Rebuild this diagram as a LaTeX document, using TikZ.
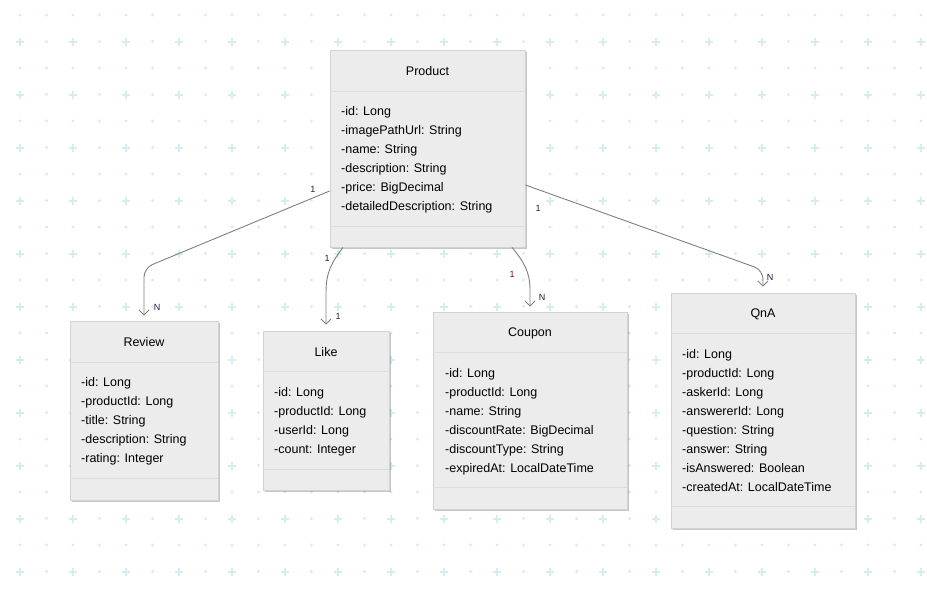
\documentclass[tikz,border=0pt]{standalone}
\usepackage{fontspec}
\setmainfont{Liberation Sans}
\usetikzlibrary{arrows.meta,shadows}
\definecolor{gridc}{HTML}{D6ECF0}
\definecolor{boxfill}{HTML}{ECECEC}
\definecolor{boxline}{HTML}{D2D2D2}
\definecolor{sepline}{HTML}{DCDCDC}
\definecolor{conn}{HTML}{808080}
\definecolor{lblc}{HTML}{202038}
\definecolor{lblred}{HTML}{7A1010}
\tikzset{
  x=1pt, y=-1pt,
  cbox/.style={draw=boxline, fill=boxfill, line width=0.8pt, inner sep=0pt,
    drop shadow={shadow xshift=2pt, shadow yshift=-2pt, fill=black, opacity=0.22}},
  sepl/.style={draw=sepline, line width=0.8pt},
  ctitle/.style={anchor=base, inner sep=0pt, font=\fontsize{12.5pt}{15pt}\selectfont, text=black},
  attr/.style={anchor=base west, inner sep=0pt, font=\fontsize{12.5pt}{15pt}\selectfont, text=black},
  conline/.style={draw=conn, line width=0.9pt, -{Straight Barb[length=5pt,width=10pt]}},
  lbl/.style={inner sep=0pt, font=\fontsize{9pt}{10pt}\selectfont, text=lblc},
  gcross/.style={draw=gridc, line width=2pt},
}
\begin{document}
\begin{tikzpicture}
\useasboundingbox (0,0) rectangle (927,589);
\fill[white] (0,0) rectangle (927,589);
% background grid
\foreach \i in {0,...,34}{
  \foreach \j in {0,...,21}{
    \pgfmathtruncatemacro{\ie}{mod(\i,2)}
    \pgfmathtruncatemacro{\jo}{mod(\j,2)}
    \pgfmathsetmacro{\gx}{20+26.5*\i}
    \pgfmathsetmacro{\gy}{15+26.5*\j}
    \ifnum\ie=0 \ifnum\jo=1
      \draw[gcross] (\gx-4,\gy) -- (\gx+4,\gy) (\gx,\gy-4) -- (\gx,\gy+4);
    \else
      \fill[gridc] (\gx,\gy) circle (1.6);
    \fi\else
      \fill[gridc] (\gx,\gy) circle (1.6);
    \fi
  }
}

% Product
\node[cbox, minimum width=195pt, minimum height=197pt] (product) at (427.5,148.5) {};
\draw[sepl] (product.west |- 0,91) -- (product.east |- 0,91);
\draw[sepl] (product.west |- 0,226) -- (product.east |- 0,226);
\node[ctitle] (product-t) at (427.5,75.5) {Product};
\foreach \t [count=\i from 0] in {-id: Long,-imagePathUrl: String,-name: String,-description: String,-price: BigDecimal,-detailedDescription: String}
  \node[attr] (product-a\i) at (341,115.5+19*\i) {\t};

% Review
\node[cbox, minimum width=148pt, minimum height=179pt] (review) at (144,410.5) {};
\draw[sepl] (review.west |- 0,362) -- (review.east |- 0,362);
\draw[sepl] (review.west |- 0,478) -- (review.east |- 0,478);
\node[ctitle] (review-t) at (144,346.5) {Review};
\foreach \t [count=\i from 0] in {-id: Long,-productId: Long,-title: String,-description: String,-rating: Integer}
  \node[attr] (review-a\i) at (81,386.5+19*\i) {\t};

% Like
\node[cbox, minimum width=126pt, minimum height=159pt] (like) at (326,410.5) {};
\draw[sepl] (like.west |- 0,371) -- (like.east |- 0,371);
\draw[sepl] (like.west |- 0,469) -- (like.east |- 0,469);
\node[ctitle] (like-t) at (326,356.5) {Like};
\foreach \t [count=\i from 0] in {-id: Long,-productId: Long,-userId: Long,-count: Integer}
  \node[attr] (like-a\i) at (274,396.5+19*\i) {\t};

% Coupon
\node[cbox, minimum width=194pt, minimum height=197pt] (coupon) at (530,410.5) {};
\draw[sepl] (coupon.west |- 0,352) -- (coupon.east |- 0,352);
\draw[sepl] (coupon.west |- 0,487) -- (coupon.east |- 0,487);
\node[ctitle] (coupon-t) at (530,336.5) {Coupon};
\foreach \t [count=\i from 0] in {-id: Long,-productId: Long,-name: String,-discountRate: BigDecimal,-discountType: String,-expiredAt: LocalDateTime}
  \node[attr] (coupon-a\i) at (445,377.5+19*\i) {\t};

% QnA
\node[cbox, minimum width=184pt, minimum height=235pt] (qna) at (763,410.5) {};
\draw[sepl] (qna.west |- 0,333) -- (qna.east |- 0,333);
\draw[sepl] (qna.west |- 0,506) -- (qna.east |- 0,506);
\node[ctitle] (qna-t) at (763,317.5) {QnA};
\foreach \t [count=\i from 0] in {-id: Long,-productId: Long,-askerId: Long,-answererId: Long,-question: String,-answer: String,-isAnswered: Boolean,-createdAt: LocalDateTime}
  \node[attr] (qna-a\i) at (682,358.5+19*\i) {\t};

% connectors
\draw[conline, rounded corners=9pt, shorten >=5pt] (product.west |- 0,191) -- (review.north |- 0,268) -- (review.north);
\draw[conline, shorten >=6pt] (product.south -| 343,0) .. controls (332,262) and (326,272) .. (like.north |- 0,292) -- (like.north);
\draw[conline, shorten >=5pt] (product.south -| 512,0) .. controls (524,262) and (530,272) .. (coupon.north |- 0,290) -- (coupon.north);
\draw[conline, rounded corners=9pt, shorten >=6pt] (product.east |- 0,185) -- (qna.north |- 0,270) -- (qna.north);

% multiplicity labels
\node[lbl] (m1) at (313,189) {1};
\node[lbl] (m2) at (157,307) {N};
\node[lbl] (m3) at (327,258) {1};
\node[lbl] (m4) at (338,316) {1};
\node[lbl, text=lblred] (m5) at (512,274) {1};
\node[lbl] (m6) at (542,297) {N};
\node[lbl] (m7) at (538,208) {1};
\node[lbl] (m8) at (770,277) {N};
\end{tikzpicture}
\end{document}
